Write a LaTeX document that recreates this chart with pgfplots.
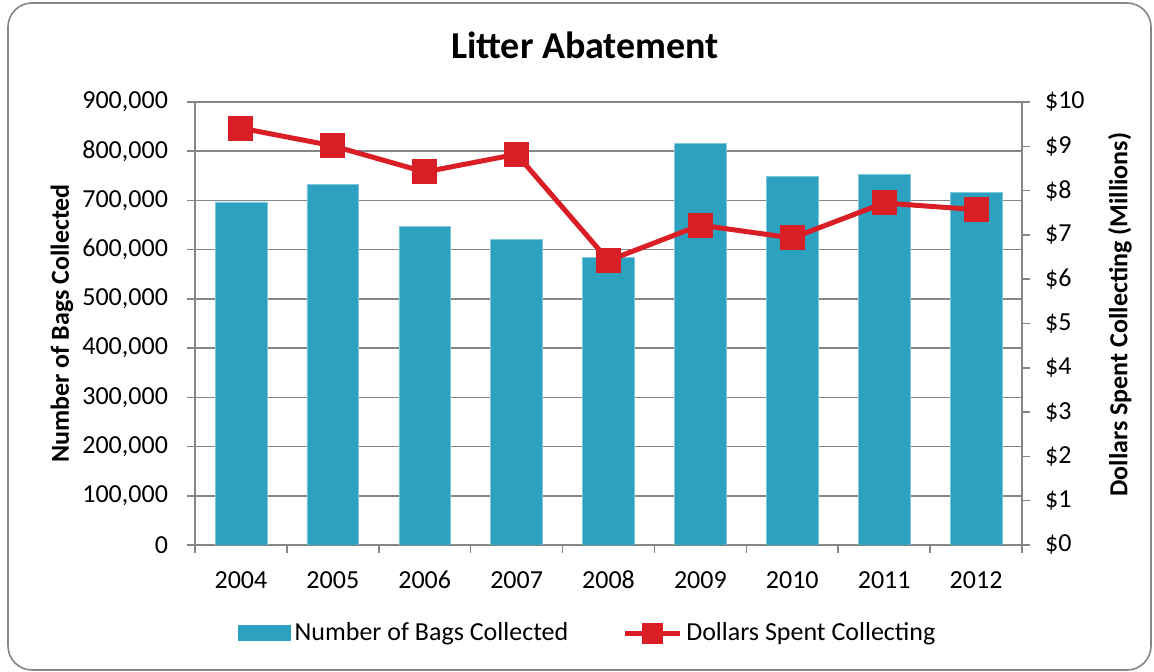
\documentclass[border=0pt]{standalone}
\usepackage{pgfplots}
\pgfplotsset{compat=1.18}
\usepackage{fontspec}
\setmainfont{Carlito}
\definecolor{barcol}{RGB}{44,162,192}
\definecolor{linecol}{RGB}{218,30,38}
\definecolor{axcol}{RGB}{134,134,134}
\pgfplotsset{
 linelegend/.style={legend image code/.code={\draw[mark repeat=2,mark phase=2,mark size=4pt,##1] plot coordinates {(0pt,0pt) (13.75pt,0pt) (27.5pt,0pt)};}},
 barlegend/.style={legend image code/.code={\fill[barcol] (0pt,-3.75pt) rectangle (26pt,3.75pt);}},
}
\begin{document}
\begin{tikzpicture}
\useasboundingbox (0,0) rectangle (577pt,336pt);
\draw[axcol, line width=0.8pt, rounded corners=12pt] (4pt,1pt) rectangle (575.5pt,334.5pt);
\pgfplotsset{
 common/.style={
  width=413.5pt, height=221.5pt, scale only axis,
  at={(97.5pt,63.5pt)}, anchor=south west,
  xmin=-0.5, xmax=8.5,
  font=\fontsize{13}{15}\selectfont,
  tick align=outside,
  major tick length=4pt,
  every tick/.style={axcol, line width=0.75pt},
  axis line style={axcol, line width=0.75pt},
 }
}
\begin{axis}[common,
  ybar, bar width=25.9pt,
  ymin=0, ymax=900000,
  scaled y ticks=false,
  axis x line*=bottom, axis y line*=left,
  xtick={-0.5,0.5,1.5,2.5,3.5,4.5,5.5,6.5,7.5,8.5},
  xticklabels={2004,2005,2006,2007,2008,2009,2010,2011,2012},
  x tick label as interval,
  xticklabel style={text height=9pt, text depth=0pt, yshift=-5pt},
  ytick={0,100000,200000,300000,400000,500000,600000,700000,800000,900000},
  yticklabels={0,{100,000},{200,000},{300,000},{400,000},{500,000},{600,000},{700,000},{800,000},{900,000}},
  yticklabel style={xshift=-6pt},
  ymajorgrids, grid style={axcol, line width=0.75pt},
  ylabel={Number of Bags Collected},
  ylabel style={font=\fontsize{13}{15}\selectfont\bfseries, at={(axis description cs:-0.1608,0.5)}, anchor=center},
  title={Litter Abatement},
  title style={font=\fontsize{19}{21}\selectfont\bfseries, at={(axis description cs:0.4716,1)}, anchor=center, yshift=22.5pt},
]
\addplot[fill=barcol, draw=barcol!60!white, line width=0.3pt] coordinates {
(0,697000) (1,732000) (2,647500) (3,621000) (4,584500) (5,816000) (6,749600) (7,753700) (8,717000)};
\end{axis}
\begin{axis}[common,
  ymin=0, ymax=10,
  axis y line*=right, axis x line=none,
  ytick={0,1,2,3,4,5,6,7,8,9,10},
  yticklabels={\$0,\$1,\$2,\$3,\$4,\$5,\$6,\$7,\$8,\$9,\$10},
  yticklabel style={xshift=4pt},
  ylabel={Dollars Spent Collecting (Millions)},
  ylabel style={font=\fontsize{13}{15}\selectfont\bfseries, at={(axis description cs:1.1185,0.52)}, anchor=center},
  legend columns=2,
  legend style={draw=none, fill=none, at={(axis description cs:0.476,-0.199)}, anchor=center,
    font=\fontsize{13}{15}\selectfont,
    /tikz/every even column/.append style={column sep=25pt}},
]
\addlegendimage{barlegend}
\addlegendentry{Number of Bags Collected}
\addplot[linecol, line width=2.5pt, mark=square*, mark size=5pt, mark options={solid, fill=linecol}, linelegend]
 coordinates {(0,9.41) (1,9.01) (2,8.42) (3,8.82) (4,6.42) (5,7.22) (6,6.93) (7,7.72) (8,7.57)};
\addlegendentry{Dollars Spent Collecting}
\end{axis}
\end{tikzpicture}
\end{document}
